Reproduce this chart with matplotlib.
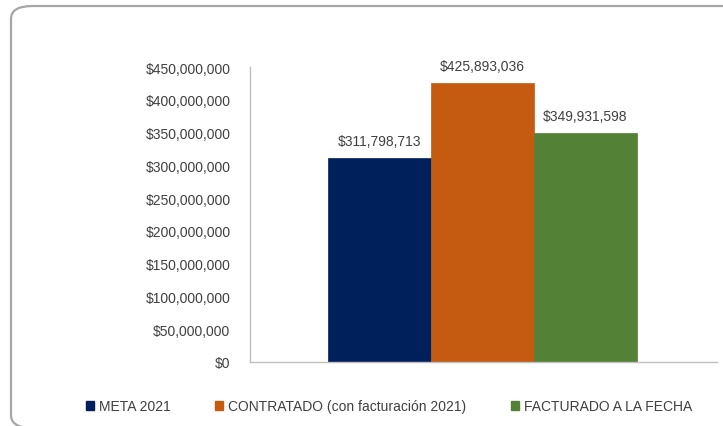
import matplotlib
matplotlib.use("Agg")
import matplotlib.pyplot as plt
from matplotlib.patches import FancyBboxPatch, Patch
from matplotlib.ticker import FuncFormatter, MultipleLocator

series = ["META 2021", "CONTRATADO (con facturación 2021)", "FACTURADO A LA FECHA"]
values = [311798713, 425893036, 349931598]
colors = ["#00205B", "#C55A11", "#538135"]
labels = ["$311,798,713", "$425,893,036", "$349,931,598"]

plt.rcParams['font.family'] = ['Liberation Sans', 'DejaVu Sans']
W, H = 723, 427
fig = plt.figure(figsize=(W / 100, H / 100), dpi=100)
fig.patch.set_facecolor("white")

# rounded frame (right and bottom sides run off the image)
frame = FancyBboxPatch((11 / W, -2 / H), (760 - 11) / W, (427 - 7 + 2) / H,
                       boxstyle="round,pad=0,rounding_size=0.03",
                       transform=fig.transFigure, facecolor="white",
                       edgecolor="#A6A6A6", linewidth=1.6, zorder=0)
fig.patches.append(frame)

ax = fig.add_axes([250 / W, (H - 363) / H, (717 - 250) / W, (363 - 68) / H])
ax.set_facecolor("none")
ax.set_zorder(2)

bw = 103
xs = [-bw, 0, bw]
for x, v, c, l in zip(xs, values, colors, labels):
    ax.bar(x, v, width=bw, color=c, edgecolor=c, linewidth=0.5)
    ax.annotate(l, (x, v), xytext=(0, 7), textcoords="offset points",
                ha="center", va="bottom", fontsize=10, color="#404040")

ax.set_xlim(-232.5, 234.5)
ax.set_ylim(0, 450000000)
ax.yaxis.set_major_locator(MultipleLocator(50000000))
ax.yaxis.set_major_formatter(FuncFormatter(lambda v, p: "${:,.0f}".format(v)))
ax.tick_params(axis="y", length=0, pad=14, labelsize=10, labelcolor="#404040")
ax.set_xticks([])
for s in ["top", "right"]:
    ax.spines[s].set_visible(False)
for s in ["left", "bottom"]:
    ax.spines[s].set_color("#BFBFBF")
    ax.spines[s].set_linewidth(1.0)

handles = [Patch(facecolor=c, edgecolor=c) for c in colors]
leg = fig.legend(handles, series, loc="center", bbox_to_anchor=(389 / W, 1 - 407 / H),
                 ncol=3, frameon=False, fontsize=10, handlelength=0.6, handleheight=0.6,
                 handletextpad=0.35, columnspacing=3.2, labelcolor="#404040")

fig.savefig("out.png", dpi=100)
